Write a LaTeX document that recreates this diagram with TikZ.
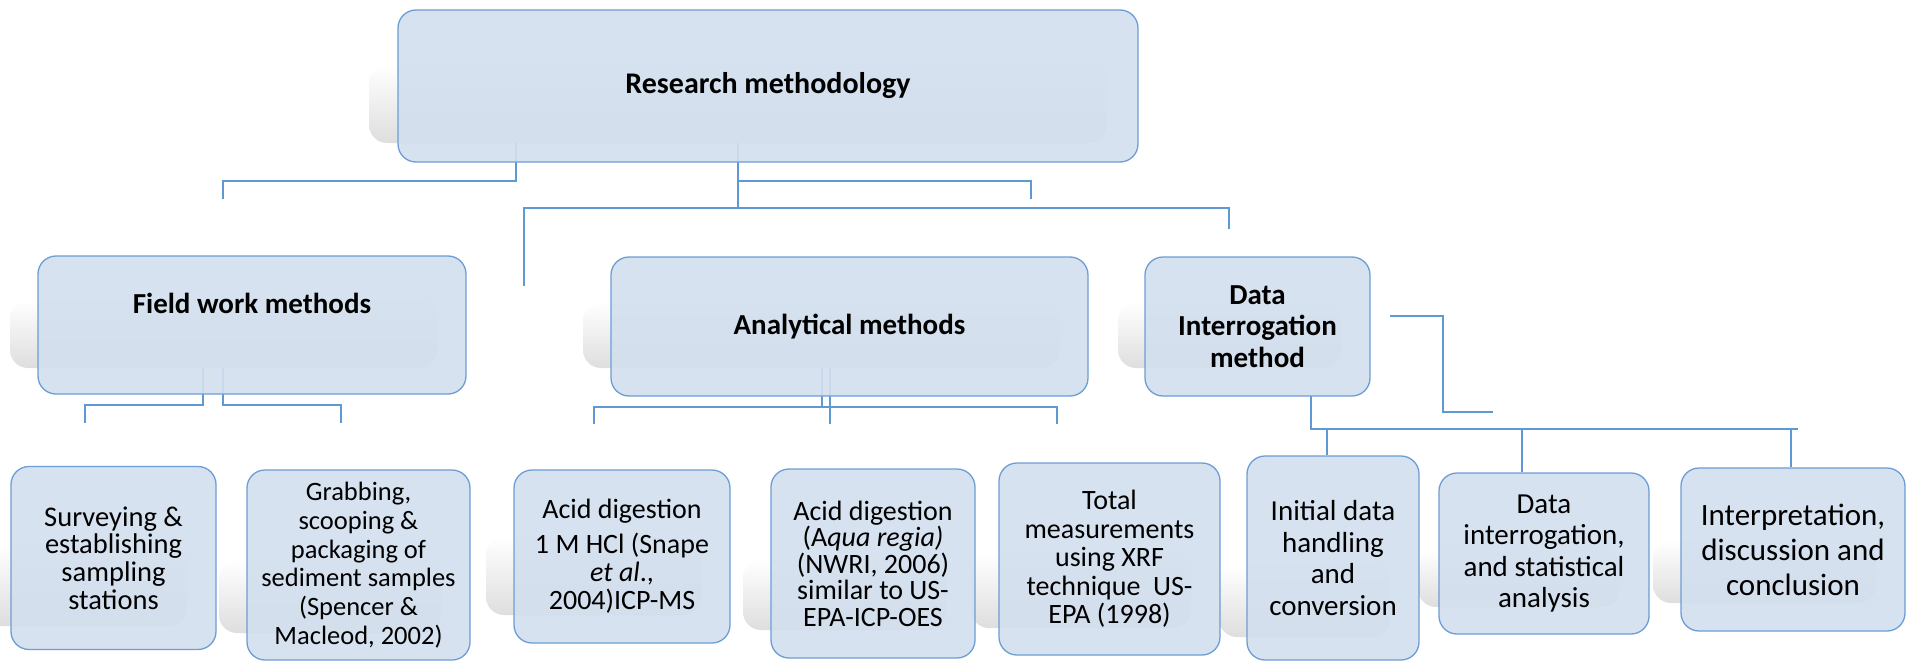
\documentclass[tikz,border=0pt]{standalone}
\usepackage{fontspec}
\setmainfont{Carlito}
\setlength{\lineskiplimit}{-50pt}
\definecolor{boxfill}{RGB}{211,223,238}
\definecolor{boxdraw}{RGB}{108,157,212}
\definecolor{linecol}{RGB}{95,152,210}
\definecolor{shadowc}{RGB}{222,222,222}
\newcommand{\bodyfont}[2]{\fontsize{#1}{#2}\selectfont}
\tikzset{
  box/.style={draw=boxdraw, line width=1.3pt, fill=boxfill, fill opacity=0.92, text opacity=1,
    rounded corners=18pt, align=center, inner sep=0pt},
  shadowbox/.style={rounded corners=18pt, top color=white, bottom color=shadowc, draw=none},
  conn/.style={draw=linecol, line width=1.3pt},
  thickconn/.style={draw=linecol, line width=2.4pt},
  medconn/.style={draw=linecol, line width=1.6pt},
  head/.style={font=\bfseries\bodyfont{29}{31.5}},
}
\begin{document}
\begin{tikzpicture}[x=1pt,y=-1pt]
\useasboundingbox (0,0) rectangle (1908,661);
% ---------- shadows ----------
\path[shadowbox] (369,65) rectangle (1107,143);
\path[shadowbox] (10,300) rectangle (437,368);
\path[shadowbox] (583,303) rectangle (1060,368);
\path[shadowbox] (1118,303) rectangle (1341,368);
\path[shadowbox] (-18,545) rectangle (187,626);
\path[shadowbox] (219,560) rectangle (441,633);
\path[shadowbox] (486,537) rectangle (701,615);
\path[shadowbox] (743,560) rectangle (946,630);
\path[shadowbox] (971,553) rectangle (1191,628);
\path[shadowbox] (1219,565) rectangle (1390,637);
\path[shadowbox] (1418,550) rectangle (1620,607);
\path[shadowbox] (1653,540) rectangle (1876,603);
% ---------- coordinates ----------
\coordinate (t1) at (516,143); \coordinate (t1b) at (516,181);
\coordinate (t1c) at (223,181); \coordinate (t1d) at (223,199);
\coordinate (t2) at (738,143); \coordinate (t2b) at (738,181);
\coordinate (t2c) at (1031,181); \coordinate (t2d) at (1031,199);
\coordinate (t3) at (738,208);
\coordinate (t4) at (748,208);
\coordinate (k1) at (524,286); \coordinate (k2) at (524,208);
\coordinate (k3) at (1229,208); \coordinate (k4) at (1229,229);
\coordinate (f1) at (203,368); \coordinate (f1b) at (203,405);
\coordinate (f1c) at (85,405); \coordinate (f1d) at (85,423);
\coordinate (f2) at (223,368); \coordinate (f2b) at (223,405);
\coordinate (f2c) at (341,405); \coordinate (f2d) at (341,423);
\coordinate (a1) at (822,368); \coordinate (a1b) at (822,407);
\coordinate (a2) at (830,368); \coordinate (a2b) at (830,424);
\coordinate (a3) at (594,424); \coordinate (a3b) at (594,407);
\coordinate (a3c) at (1057,407); \coordinate (a3d) at (1057,424);
\coordinate (d1) at (1311,396); \coordinate (d1b) at (1311,429);
\coordinate (d1c) at (1798,429);
\coordinate (dh1) at (1327,429); \coordinate (dh2) at (1522,429); \coordinate (dh3) at (1791,429);
\coordinate (e1) at (1390,316); \coordinate (e2) at (1443,316);
\coordinate (e3) at (1443,412); \coordinate (e4) at (1493,412);
% ---------- connectors ----------
\draw[conn] (t1) -- (t1b) -- (t1c) -- (t1d);
\draw[conn] (t2) -- (t2b) -- (t2c) -- (t2d);
\draw[conn] (t2b) -- (t3);
\draw[medconn] (t3) -- (k3) -- (k4);
\draw[thickconn] (k1) -- (k2) -- (t4);
\draw[conn] (f1) -- (f1b) -- (f1c) -- (f1d);
\draw[conn] (f2) -- (f2b) -- (f2c) -- (f2d);
\draw[conn] (a1) -- (a1b);
\draw[conn] (a2) -- (a2b);
\draw[conn] (a3) -- (a3b) -- (a3c) -- (a3d);
\draw[conn] (d1) -- (d1b) -- (d1c);
\draw[thickconn] (e1) -- (e2) -- (e3) -- (e4);
% ---------- boxes ----------
\node[box, font=\bfseries\bodyfont{30}{32}, minimum width=740pt, minimum height=152pt] (top) at (768,86) {Research methodology};
\node[box, minimum width=428pt, minimum height=138pt] (field) at (252,325) {};
\node[head] (fieldtxt) at (252,303) {Field work methods};
\node[box, head, minimum width=477pt, minimum height=139pt] (ana) at (849.5,326.5) {Analytical methods};
\node[box, head, minimum width=225pt, minimum height=139pt] (dim) at (1257.5,326.5) {Data\\Interrogation\\method};
\node[box, font=\bodyfont{28.5}{27.7}, minimum width=205pt, minimum height=183pt] (surv) at (113.5,558)
  {Surveying \&\\establishing\\sampling\\stations};
\node[box, font=\bodyfont{26.5}{28.7}, minimum width=223pt, minimum height=190pt] (grab) at (358.5,565)
  {Grabbing,\\scooping \&\\packaging of\\sediment samples\\(Spencer \&\\Macleod, 2002)};
\node[box, font=\bodyfont{28}{28}, minimum width=216pt, minimum height=173pt] (acid1) at (622,556.5)
  {Acid digestion\\[7pt]1 M HCl (Snape\\\textit{et al}.,\\2004)ICP-MS};
\node[box, font=\bodyfont{28}{26.5}, minimum width=204pt, minimum height=189pt] (acid2) at (873,563.5)
  {Acid digestion\\(A\textit{qua regia)}\\(NWRI, 2006)\\similar to US-\\EPA-ICP-OES};
\node[box, font=\bodyfont{28}{28.5}, minimum width=221pt, minimum height=192pt] (total) at (1109.5,559)
  {Total\\measurements\\using XRF\\technique\ \ US-\\EPA (1998)};
\node[box, font=\bodyfont{29}{31.5}, minimum width=172pt, minimum height=204pt] (init) at (1333,558)
  {Initial data\\handling\\and\\conversion};
\node[box, font=\bodyfont{29}{31.5}, minimum width=210pt, minimum height=161pt] (dint) at (1544,553.5)
  {Data\\interrogation,\\and statistical\\analysis};
\node[box, font=\bodyfont{31}{35}, minimum width=224pt, minimum height=163pt] (interp) at (1793,549.5)
  {Interpretation,\\discussion and\\conclusion};
% ---------- drops to bottom row ----------
\draw[conn] (dh1) -- (dh1 |- init.north);
\draw[conn] (dh2) -- (dh2 |- dint.north);
\draw[conn] (dh3) -- (dh3 |- interp.north);
\end{tikzpicture}
\end{document}
